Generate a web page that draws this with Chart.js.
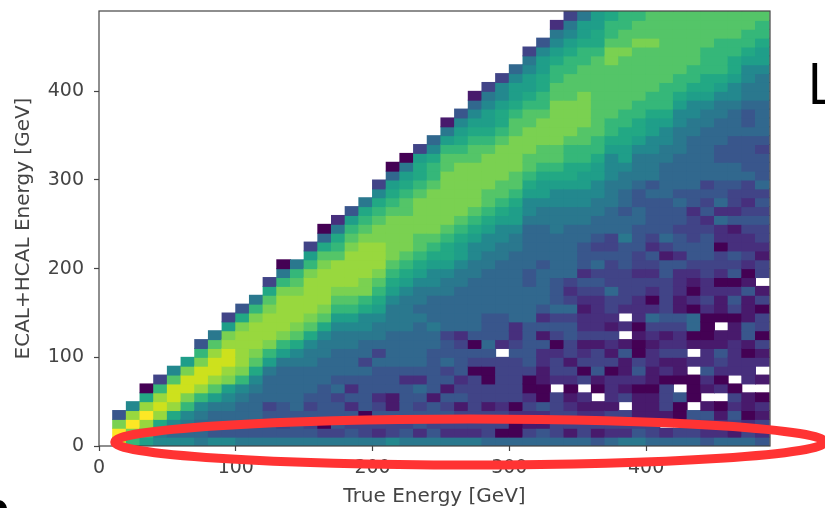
<!DOCTYPE html>
<html>
<head>
<meta charset="utf-8">
<style>
  html, body { margin: 0; padding: 0; background: #fff; overflow: hidden; }
  #wrap { position: relative; width: 825px; height: 508px; }
  canvas { filter: blur(0.5px); }
</style>
<script src="https://cdn.jsdelivr.net/npm/chart.js@4"></script>
</head>
<body>
<div id="wrap"><canvas id="chart" width="825" height="508"></canvas></div>
<script>
// Left edge of every true energy bin [GeV]
const energyBins = [10,20,30,40,50,60,70,80,90,100,110,120,130,140,150,160,170,180,190,200,210,220,230,240,
    250,260,270,280,290,300,310,320,330,340,350,360,370,380,390,400,410,420,430,440,450,460,470,480];
const binSize = 10;

// Each character is a colour level (0-f, low to high counts), "." is an empty cell.
const columns = [
    "efc4",
    "acfd7",
    "8adfd90",
    "769deda3",
    "7579deeb7",
    "7567aceec8",
    "65567adeeca4",
    "745568bdeedb6",
    "7455678cdeedc83",
    "6455567acddddc94",
    "644555679bcdddca6",
    "6444355568acdddcb93",
    "64344555568acddddca60",
    "644455555679bcdddcba6",
    "6434345556679bcddddca83",
    "63044445556679bcddddcb950",
    "634443545556678abcdddba962",
    "643424245556678abcddddcba84",
    "6330444453556779accddddcba96",
    "62343244453566789abcdddccba973",
    "73341144"+"45555666"+"789abccc"+"ccba9850",
    "64344442"+"45555666"+"6789abcc"+"ccbba986"+"0",
    "62443452"+"45555565"+"66789abb"+"ccccba99"+"83",
    "64344144"+"44455655"+"567789ab"+"cccccbaa"+"975",
    "62343414"+"35443555"+"5667899a"+"bccccccb"+"ba861",
    "62331432"+"44432555"+"55667889"+"abcccccc"+"ba9874",
    "62333333"+"03404555"+"55566778"+"9abccccc"+"bba98751",
    "53331330"+"03454445"+"55556677"+"89abbccc"+"cba98876"+"3",
    "50332333"+"33.24445"+"55555667"+"789abbcc"+"ccba9987"+"73",
    "50020333"+"33432255"+"55555566"+"7889abbc"+"cccbba98"+"875",
    "53123200"+"34444455"+"55445555"+"567789ab"+"bcccbba9"+"88763",
    "54124001"+"12241424"+"55554555"+"5667889a"+"bbcccbaa"+"998874",
    "533333.2"+"33203435"+"44455555"+"6667789a"+"bbcccccb"+"baa98762",
    "51332102"+"31334435"+"32355555"+"56677899"+"aabccccb"+"bbaa98763",
    "533212.3"+"03213221"+"23424445"+"56677889"+"aabbcccc"+"bbbaa9886",
    "41321.01"+"43313222"+"23435434"+"55667788"+"9aabbbbb"+"bbbba9988",
    "52331222"+"03123123"+"35333433"+"55566677"+"789aabbb"+"bbbccbaa9",
    "6233.312"+"1141.2.2"+"33334446"+"55455667"+"8899aabb"+"bbbbcbbaa",
    "64311102"+"43001022"+"23323344"+"45544566"+"67899aab"+"bbbbbcbba",
    "53311101"+"12212352"+"02323423"+"44445466"+"677889aa"+"bbbbbcbbb",
    "52.13330"+"21321343"+"33344135"+"44445555"+"667789aa"+"abbbbbbbb",
    "53.004.0"+"11322341"+"12224244"+"34454555"+"56667789"+"aabbbbbbb",
    "5334.000"+".2.10550"+"20123443"+"33244555"+"55566778"+"9aabbbbbb",
    "42341.12"+"42210002"+"32233444"+"32434355"+"55556678"+"99aaabbbb",
    "52210.20"+"23411.01"+"12023302"+"25254455"+"44555667"+"89aaaabbb",
    "5134230."+"22221103"+"42043422"+"14233455"+"44455567"+"7899aabbb",
    "532011.2"+"22014411"+"14102322"+"34323354"+"44454456"+"67789aabb",
    "423120.1"+".2130330"+"31.33123"+"34343544"+"43455556"+"667889aab"
];

// Colours for levels 0-f
const levelColors = ["#440154","#481a6c","#472f7d","#414487","#39568c","#31688e","#2a788e","#23888e",
    "#1f9e89","#22a884","#35b779","#54c568","#7ad151","#98d83e","#cde11d","#fde725"];

const xTickValues = [0, 100, 200, 300, 400];
const yTickValues = [0, 100, 200, 300, 400];
const axisMax = 490.6;

// Build one floating bar per filled cell
const cells = [];
const cellColors = [];
columns.forEach((col, i) => {
    for (let r = 0; r < col.length; r++) {
        if (col[r] === ".") continue;
        cells.push({ x: energyBins[i] + binSize / 2, y: [r * binSize, (r + 1) * binSize] });
        cellColors.push(levelColors[parseInt(col[r], 16)]);
    }
});

// Box around the plot, the red ellipse and the bits of slide text around the chart
const overlay = {
    id: "overlay",
    afterDraw(chart) {
        const { ctx, chartArea, scales } = chart;
        ctx.save();
        ctx.strokeStyle = "#444";
        ctx.lineWidth = 1.2;
        ctx.strokeRect(chartArea.left, chartArea.top, chartArea.width, chartArea.height);

        const cx = scales.x.getPixelForValue(271);
        const cy = scales.y.getPixelForValue(4.5);
        const rx = scales.x.getPixelForValue(259.5) - scales.x.getPixelForValue(0);
        const ry = scales.y.getPixelForValue(0) - scales.y.getPixelForValue(26);
        ctx.strokeStyle = "#ff3333";
        ctx.lineWidth = 9;
        ctx.beginPath();
        ctx.ellipse(cx, cy, rx, ry, 0, 0, Math.PI * 2);
        ctx.stroke();

        ctx.fillStyle = "#000";
        ctx.font = '56px "Open Sans"';
        ctx.textBaseline = "alphabetic";
        ctx.fillText("L", 807, 104);
        ctx.beginPath();
        ctx.arc(-2, 509, 9, 0, Math.PI * 2);
        ctx.fill();
        ctx.restore();
    }
};

const tickFont = { family: '"DejaVu Sans"', size: 19 };
const titleFont = { family: '"DejaVu Sans"', size: 20 };

new Chart(document.getElementById("chart").getContext("2d"), {
    type: "bar",
    data: {
        datasets: [{
            data: cells,
            backgroundColor: cellColors,
            borderWidth: 0,
            inflateAmount: 0.5,
            barPercentage: 1,
            categoryPercentage: 1
        }]
    },
    options: {
        responsive: false,
        animation: false,
        layout: { padding: { top: 11, right: 55, left: 0, bottom: 0 } },
        plugins: { legend: { display: false }, tooltip: { enabled: false } },
        scales: {
            x: {
                type: "linear",
                min: 0,
                max: axisMax,
                offset: false,
                afterFit(scale) {
                    scale.height = 62;
                    scale.paddingLeft = 0;
                    scale.paddingRight = 0;
                },
                afterBuildTicks(scale) { scale.ticks = xTickValues.map(v => ({ value: v })); },
                grid: { offset: false, drawOnChartArea: false, tickLength: 5, tickColor: "#444", tickWidth: 1.2 },
                border: { display: false },
                ticks: { color: "#444", font: tickFont, padding: 6, maxRotation: 0 },
                title: { display: true, text: "True Energy [GeV]", color: "#444", font: titleFont, padding: { top: 4, bottom: -1 } }
            },
            y: {
                type: "linear",
                min: 0,
                max: axisMax,
                afterFit(scale) {
                    scale.width = 99;
                    // tick padding would otherwise push the plot down
                    scale.paddingTop = 0;
                    scale.paddingBottom = 0;
                },
                afterBuildTicks(scale) { scale.ticks = yTickValues.map(v => ({ value: v })); },
                grid: { drawOnChartArea: false, tickLength: 5, tickColor: "#444", tickWidth: 1.2 },
                border: { display: false },
                ticks: { color: "#444", font: tickFont, padding: 10 },
                title: { display: true, text: "ECAL+HCAL Energy [GeV]", color: "#444", font: titleFont, padding: { top: 12, bottom: 4 } }
            }
        }
    },
    plugins: [overlay]
});
</script>
</body>
</html>
